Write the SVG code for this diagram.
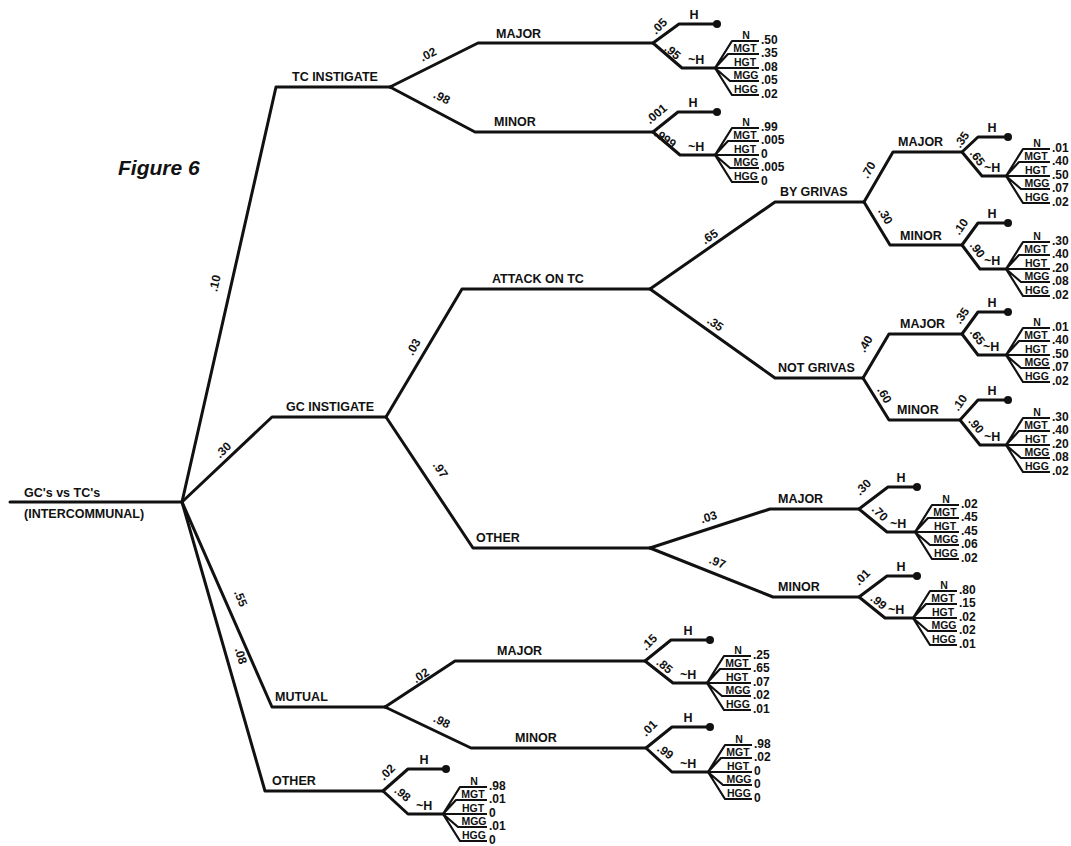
<svg xmlns="http://www.w3.org/2000/svg" xmlns:xlink="http://www.w3.org/1999/xlink" width="1071" height="846" viewBox="0 0 1071 846">
<style>
.l{fill:none;stroke:#111;stroke-width:3;stroke-linejoin:round;stroke-linecap:round}
.f{fill:none;stroke:#111;stroke-width:2.2;stroke-linejoin:round}
.t{font-family:"Liberation Sans",Arial,sans-serif;font-weight:bold;font-size:12.5px;fill:#111}
.p{font-size:12px;text-anchor:middle}
.s{font-size:10.5px;text-anchor:middle}
.v{font-size:12px}
.h{text-anchor:middle}
.fig{font-size:21px;font-style:italic}
.d{fill:#111}
</style>
<defs>
<g id="fan">
<path class="f" d="M0,0 L17,-27 H44 M0,0 L13,-14 H44 M0,0 H44 M0,0 L15,13 H44 M0,0 L17,27 H44"/>
<text class="t s" x="31" y="-29">N</text>
<text class="t s" x="30" y="-16">MGT</text>
<text class="t s" x="30" y="-2">HGT</text>
<text class="t s" x="31" y="11">MGG</text>
<text class="t s" x="31" y="25">HGG</text>
</g>
</defs>
<rect width="1071" height="846" fill="#fff"/>
<text class="t fig" x="118" y="175">Figure 6</text>

<g id="connectors">
<path class="l" d="M10,502 H182"/>
<path class="l" d="M182,502 L276,87 H390"/>
<path class="l" d="M182,502 L272,417 H386"/>
<path class="l" d="M182,502 L272,707 H385"/>
<path class="l" d="M182,502 L265,791 H383"/>
<path class="l" d="M390,87 L478,43 H653"/>
<path class="l" d="M390,87 L475,132 H653"/>
<path class="l" d="M386,417 L462,289 H650"/>
<path class="l" d="M386,417 L473,548 H650"/>
<path class="l" d="M650,289 L775,202 H864"/>
<path class="l" d="M650,289 L775,378 H863"/>
<path class="l" d="M864,202 L893,152 H962"/>
<path class="l" d="M864,202 L890,245 H962"/>
<path class="l" d="M863,378 L889,334 H962"/>
<path class="l" d="M863,378 L889,420 H960"/>
<path class="l" d="M650,548 L770,509 H859"/>
<path class="l" d="M650,548 L773,597 H859"/>
<path class="l" d="M385,707 L455,661 H645"/>
<path class="l" d="M385,707 L471,748 H646"/>
</g>

<g id="root">
<text class="t" x="24" y="497">GC's vs TC's</text>
<text class="t" x="24" y="518">(INTERCOMMUNAL)</text>
</g>

<g id="tc-instigate">
<text class="t" x="292" y="81">TC INSTIGATE</text>
<text class="t p" transform="rotate(-77 219 284)" x="219" y="284">.10</text>
<text class="t p" transform="rotate(-27 430 58)" x="430" y="58">.02</text>
<text class="t p" transform="rotate(27 440 101)" x="440" y="101">.98</text>
</g>

<g id="tc-major">
<text class="t" x="496" y="38">MAJOR</text>
<path class="l" d="M653,43 L679,24 H717 M653,43 L682,68 H715"/>
<circle class="d" cx="717" cy="24" r="4"/>
<text class="t h" x="694" y="19">H</text>
<text class="t" x="688" y="64">~H</text>
<text class="t p" transform="rotate(-45 662 29)" x="662" y="29">.05</text>
<text class="t p" transform="rotate(40 670 55)" x="670" y="55">.95</text>
<use xlink:href="#fan" href="#fan" x="715" y="68"/>
<text class="t v" x="761" y="44">.50</text>
<text class="t v" x="761" y="57">.35</text>
<text class="t v" x="761" y="71">.08</text>
<text class="t v" x="761" y="84">.05</text>
<text class="t v" x="761" y="98">.02</text>
</g>

<g id="tc-minor">
<text class="t" x="494" y="126">MINOR</text>
<path class="l" d="M653,132 L678,112 H717 M653,132 L680,155 H715"/>
<circle class="d" cx="717" cy="112" r="4"/>
<text class="t h" x="693" y="107">H</text>
<text class="t" x="688" y="151">~H</text>
<text class="t p" transform="rotate(-40 659 117)" x="659" y="117">.001</text>
<text class="t p" transform="rotate(35 663 142)" x="663" y="142">.999</text>
<use xlink:href="#fan" href="#fan" x="715" y="155"/>
<text class="t v" x="761" y="131">.99</text>
<text class="t v" x="761" y="144">.005</text>
<text class="t v" x="761" y="158">0</text>
<text class="t v" x="761" y="171">.005</text>
<text class="t v" x="761" y="185">0</text>
</g>

<g id="gc-instigate">
<text class="t" x="286" y="411">GC INSTIGATE</text>
<text class="t p" transform="rotate(-44 226 453)" x="226" y="453">.30</text>
<text class="t p" transform="rotate(-60 417 349)" x="417" y="349">.03</text>
<text class="t p" transform="rotate(56 437 472)" x="437" y="472">.97</text>
</g>

<g id="attack-on-tc">
<text class="t" x="492" y="283">ATTACK ON TC</text>
<text class="t p" transform="rotate(-34 712 240)" x="712" y="240">.65</text>
<text class="t p" transform="rotate(35 713 327)" x="713" y="327">.35</text>
</g>

<g id="by-grivas">
<text class="t" x="780" y="196">BY GRIVAS</text>
<text class="t p" transform="rotate(-60 872 172)" x="872" y="172">.70</text>
<text class="t p" transform="rotate(60 882 218)" x="882" y="218">.30</text>
</g>

<g id="bg-major">
<text class="t" x="898" y="146">MAJOR</text>
<path class="l" d="M962,152 L978,137 H1008 M962,152 L982,176 H1006"/>
<circle class="d" cx="1008" cy="137" r="4"/>
<text class="t h" x="992" y="132">H</text>
<text class="t" x="984" y="172">~H</text>
<text class="t p" transform="rotate(-55 965 142)" x="965" y="142">.35</text>
<text class="t p" transform="rotate(55 974 160)" x="974" y="160">.65</text>
<use xlink:href="#fan" href="#fan" x="1006" y="176"/>
<text class="t v" x="1052" y="152">.01</text>
<text class="t v" x="1052" y="165">.40</text>
<text class="t v" x="1052" y="179">.50</text>
<text class="t v" x="1052" y="192">.07</text>
<text class="t v" x="1052" y="206">.02</text>
</g>

<g id="bg-minor">
<text class="t" x="900" y="240">MINOR</text>
<path class="l" d="M962,245 L978,223 H1008 M962,245 L980,269 H1006"/>
<circle class="d" cx="1008" cy="223" r="4"/>
<text class="t h" x="992" y="218">H</text>
<text class="t" x="984" y="265">~H</text>
<text class="t p" transform="rotate(-55 964 229)" x="964" y="229">.10</text>
<text class="t p" transform="rotate(55 974 252)" x="974" y="252">.90</text>
<use xlink:href="#fan" href="#fan" x="1006" y="269"/>
<text class="t v" x="1052" y="245">.30</text>
<text class="t v" x="1052" y="258">.40</text>
<text class="t v" x="1052" y="272">.20</text>
<text class="t v" x="1052" y="285">.08</text>
<text class="t v" x="1052" y="299">.02</text>
</g>

<g id="not-grivas">
<text class="t" x="778" y="372">NOT GRIVAS</text>
<text class="t p" transform="rotate(-60 869 346)" x="869" y="346">.40</text>
<text class="t p" transform="rotate(60 881 397)" x="881" y="397">.60</text>
</g>

<g id="ng-major">
<text class="t" x="900" y="328">MAJOR</text>
<path class="l" d="M962,334 L978,312 H1008 M962,334 L978,355 H1006"/>
<circle class="d" cx="1008" cy="312" r="4"/>
<text class="t h" x="992" y="307">H</text>
<text class="t" x="983" y="351">~H</text>
<text class="t p" transform="rotate(-55 965 318)" x="965" y="318">.35</text>
<text class="t p" transform="rotate(55 974 339)" x="974" y="339">.65</text>
<use xlink:href="#fan" href="#fan" x="1006" y="355"/>
<text class="t v" x="1052" y="331">.01</text>
<text class="t v" x="1052" y="344">.40</text>
<text class="t v" x="1052" y="358">.50</text>
<text class="t v" x="1052" y="371">.07</text>
<text class="t v" x="1052" y="385">.02</text>
</g>

<g id="ng-minor">
<text class="t" x="897" y="414">MINOR</text>
<path class="l" d="M960,420 L978,400 H1008 M960,420 L980,445 H1006"/>
<circle class="d" cx="1008" cy="400" r="4"/>
<text class="t h" x="992" y="395">H</text>
<text class="t" x="984" y="441">~H</text>
<text class="t p" transform="rotate(-55 963 405)" x="963" y="405">.10</text>
<text class="t p" transform="rotate(50 973 428)" x="973" y="428">.90</text>
<use xlink:href="#fan" href="#fan" x="1006" y="445"/>
<text class="t v" x="1052" y="421">.30</text>
<text class="t v" x="1052" y="434">.40</text>
<text class="t v" x="1052" y="448">.20</text>
<text class="t v" x="1052" y="461">.08</text>
<text class="t v" x="1052" y="475">.02</text>
</g>

<g id="gc-other">
<text class="t" x="476" y="542">OTHER</text>
<text class="t p" transform="rotate(-18 710 521)" x="710" y="521">.03</text>
<text class="t p" transform="rotate(22 716 566)" x="716" y="566">.97</text>
</g>

<g id="oth-major">
<text class="t" x="778" y="503">MAJOR</text>
<path class="l" d="M859,509 L888,487 H917 M859,509 L887,532 H915"/>
<circle class="d" cx="917" cy="487" r="4"/>
<text class="t h" x="901" y="482">H</text>
<text class="t" x="890" y="528">~H</text>
<text class="t p" transform="rotate(-45 866 490)" x="866" y="490">.30</text>
<text class="t p" transform="rotate(45 877 516)" x="877" y="516">.70</text>
<use xlink:href="#fan" href="#fan" x="915" y="532"/>
<text class="t v" x="961" y="508">.02</text>
<text class="t v" x="961" y="521">.45</text>
<text class="t v" x="961" y="535">.45</text>
<text class="t v" x="961" y="548">.06</text>
<text class="t v" x="961" y="562">.02</text>
</g>

<g id="oth-minor">
<text class="t" x="778" y="591">MINOR</text>
<path class="l" d="M859,597 L887,576 H917 M859,597 L885,618 H913"/>
<circle class="d" cx="917" cy="576" r="4"/>
<text class="t h" x="901" y="571">H</text>
<text class="t" x="888" y="614">~H</text>
<text class="t p" transform="rotate(-45 865 580)" x="865" y="580">.01</text>
<text class="t p" transform="rotate(40 876 605)" x="876" y="605">.99</text>
<use xlink:href="#fan" href="#fan" x="913" y="618"/>
<text class="t v" x="959" y="594">.80</text>
<text class="t v" x="959" y="607">.15</text>
<text class="t v" x="959" y="621">.02</text>
<text class="t v" x="959" y="634">.02</text>
<text class="t v" x="959" y="648">.01</text>
</g>

<g id="mutual">
<text class="t" x="275" y="701">MUTUAL</text>
<text class="t p" transform="rotate(68 237 600)" x="237" y="600">.55</text>
<text class="t p" transform="rotate(-33 423 679)" x="423" y="679">.02</text>
<text class="t p" transform="rotate(26 440 725)" x="440" y="725">.98</text>
</g>

<g id="mut-major">
<text class="t" x="497" y="655">MAJOR</text>
<path class="l" d="M645,661 L671,640 H710 M645,661 L673,683 H707"/>
<circle class="d" cx="710" cy="640" r="4"/>
<text class="t h" x="688" y="635">H</text>
<text class="t" x="680" y="679">~H</text>
<text class="t p" transform="rotate(-45 652 645)" x="652" y="645">.15</text>
<text class="t p" transform="rotate(40 662 669)" x="662" y="669">.85</text>
<use xlink:href="#fan" href="#fan" x="707" y="683"/>
<text class="t v" x="753" y="659">.25</text>
<text class="t v" x="753" y="672">.65</text>
<text class="t v" x="753" y="686">.07</text>
<text class="t v" x="753" y="699">.02</text>
<text class="t v" x="753" y="713">.01</text>
</g>

<g id="mut-minor">
<text class="t" x="515" y="742">MINOR</text>
<path class="l" d="M646,748 L672,727 H710 M646,748 L672,772 H708"/>
<circle class="d" cx="710" cy="727" r="4"/>
<text class="t h" x="688" y="722">H</text>
<text class="t" x="680" y="768">~H</text>
<text class="t p" transform="rotate(-45 652 731)" x="652" y="731">.01</text>
<text class="t p" transform="rotate(35 663 755)" x="663" y="755">.99</text>
<use xlink:href="#fan" href="#fan" x="708" y="772"/>
<text class="t v" x="754" y="748">.98</text>
<text class="t v" x="754" y="761">.02</text>
<text class="t v" x="754" y="775">0</text>
<text class="t v" x="754" y="788">0</text>
<text class="t v" x="754" y="802">0</text>
</g>

<g id="other">
<text class="t" x="272" y="785">OTHER</text>
<text class="t p" transform="rotate(74 237 657)" x="237" y="657">.08</text>
<path class="l" d="M383,791 L408,769 H446 M383,791 L408,814 H443"/>
<circle class="d" cx="446" cy="769" r="4"/>
<text class="t h" x="424" y="764">H</text>
<text class="t" x="416" y="810">~H</text>
<text class="t p" transform="rotate(-45 390 775)" x="390" y="775">.02</text>
<text class="t p" transform="rotate(40 400 797)" x="400" y="797">.98</text>
<use xlink:href="#fan" href="#fan" x="443" y="814"/>
<text class="t v" x="489" y="790">.98</text>
<text class="t v" x="489" y="803">.01</text>
<text class="t v" x="489" y="817">0</text>
<text class="t v" x="489" y="830">.01</text>
<text class="t v" x="489" y="844">0</text>
</g>
</svg>
